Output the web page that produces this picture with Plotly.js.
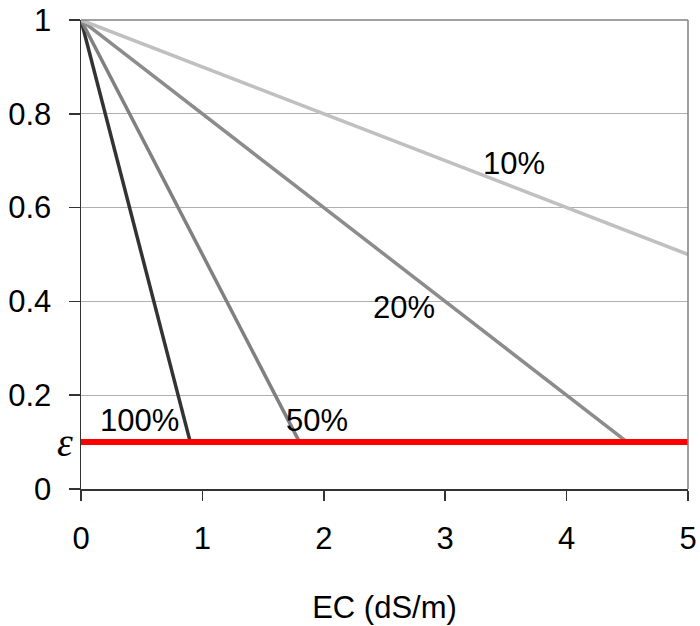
<!DOCTYPE html>
<html>
<head>
<meta charset="utf-8">
<script src="https://cdn.plot.ly/plotly-3.0.1.min.js"></script>
<style>html,body{margin:0;padding:0;background:#fff;}#chart{width:700px;height:626px;}</style>
</head>
<body>
<div id="chart"></div>
<script>
// Data
const series = ["100%", "50%", "20%", "10%"];
const seriesX = [[0, 0.9], [0, 1.8], [0, 4.5], [0, 5]];
const seriesY = [[1, 0.1], [1, 0.1], [1, 0.1], [1, 0.5]];
const seriesColor = ["#333333", "#808080", "#8c8c8c", "#c0c0c0"];
const labelX = [0.478, 1.944, 2.66, 3.57];
const labelY = [0.147, 0.147, 0.386, 0.693];
const epsilonX = [0, 5];
const epsilonY = [0.1, 0.1];
const xTicks = [0, 1, 2, 3, 4, 5];
const yTicks = [0, 0.2, 0.4, 0.6, 0.8, 1];
const yTickText = ["0", "0.2", "0.4", "0.6", "0.8", "1"];

const traces = series.map((name, i) => ({
  x: seriesX[i], y: seriesY[i], type: "scatter", mode: "lines", name: name,
  line: {color: seriesColor[i], width: 3.5}, hoverinfo: "skip"
}));
traces.push({x: epsilonX, y: epsilonY, type: "scatter", mode: "lines", name: "ε",
  line: {color: "#ff0000", width: 6}, hoverinfo: "skip"});

const annotations = series.map((name, i) => ({
  x: labelX[i], y: labelY[i], xref: "x", yref: "y", text: name, showarrow: false,
  font: {family: "Liberation Sans, Arial, sans-serif", size: 31, color: "#000"}
}));
annotations.push({x: 0, y: 0.1, xref: "x", yref: "y", text: "<i>ε</i>", showarrow: false,
  xanchor: "right", xshift: -6, yshift: 0,
  font: {family: "Liberation Serif, Times New Roman, serif", size: 40, color: "#000"}});

const layout = {
  width: 700, height: 626,
  margin: {l: 81, r: 12, t: 20, b: 137},
  showlegend: false,
  paper_bgcolor: "#fff", plot_bgcolor: "#fff",
  font: {family: "Liberation Sans, Arial, sans-serif", size: 31, color: "#000"},
  xaxis: {
    range: [0, 5], tickvals: xTicks, ticktext: xTicks.map(String),
    showgrid: false, zeroline: false, showline: true, linecolor: "#333", linewidth: 1.5,
    ticks: "outside", ticklen: 10, tickcolor: "#333", tickwidth: 1.5,
    ticklabelstandoff: 11, tickfont: {size: 31},
    title: {text: "EC (dS/m)", font: {size: 31}, standoff: 41},
    fixedrange: true
  },
  yaxis: {
    range: [0, 1], tickvals: yTicks, ticktext: yTickText,
    showgrid: true, gridcolor: "#b0b0b0", gridwidth: 1,
    zeroline: false, showline: true, linecolor: "#333", linewidth: 1.5,
    ticks: "outside", ticklen: 11, tickcolor: "#333", tickwidth: 1.5,
    ticklabelstandoff: 11, tickfont: {size: 31},
    fixedrange: true
  },
  shapes: [
    {type: "line", xref: "paper", yref: "paper", x0: 1, x1: 1, y0: 0, y1: 1,
     line: {color: "#808080", width: 1.5}},
    {type: "line", xref: "paper", yref: "paper", x0: 0, x1: 1, y0: 1, y1: 1,
     line: {color: "#808080", width: 1.5}}
  ],
  annotations: annotations
};

Plotly.newPlot("chart", traces, layout, {displayModeBar: false, staticPlot: true});
</script>
</body>
</html>
